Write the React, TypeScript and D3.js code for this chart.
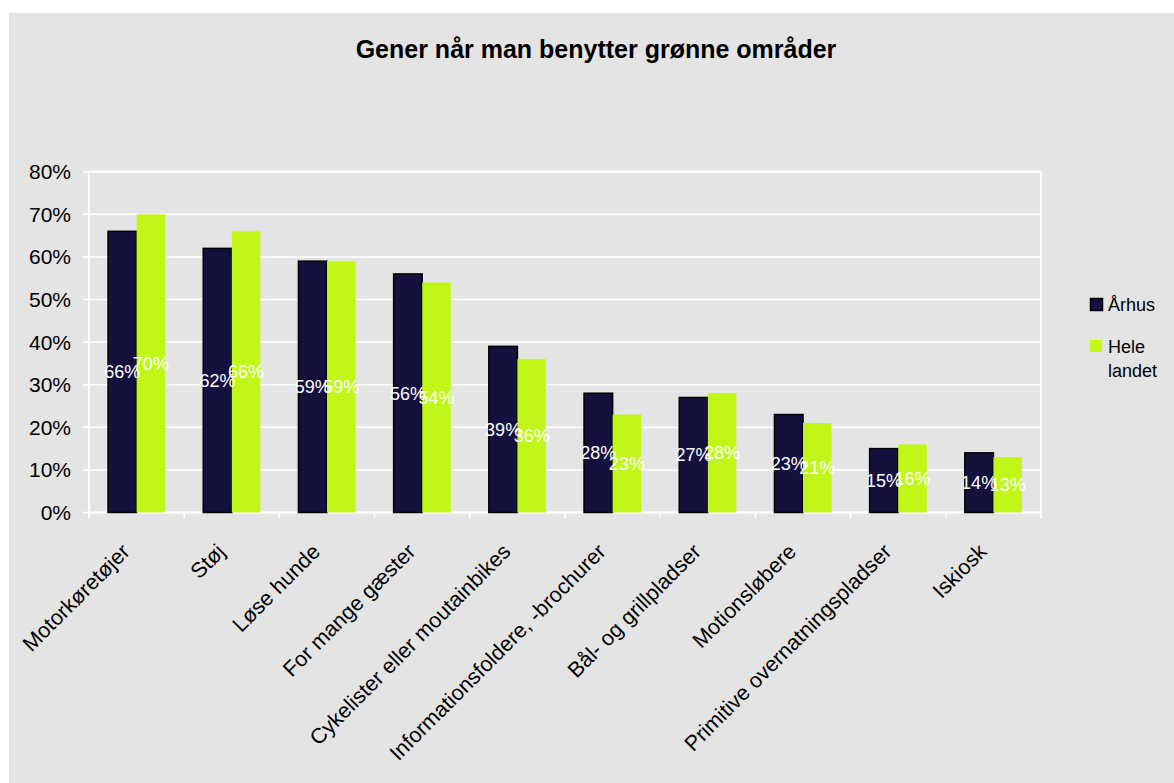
import React from "react";
import * as d3 from "d3";

const categories = [
  "Motorkøretøjer",
  "Støj",
  "Løse hunde",
  "For mange gæster",
  "Cykelister eller moutainbikes",
  "Informationsfoldere, -brochurer",
  "Bål- og grillpladser",
  "Motionsløbere",
  "Primitive overnatningspladser",
  "Iskiosk",
];
const seriesNames = ["Århus", "Hele landet"];
const aarhus = [66, 62, 59, 56, 39, 28, 27, 23, 15, 14];
const heleLandet = [70, 66, 59, 54, 36, 23, 28, 21, 16, 13];
const yTicks = [0, 10, 20, 30, 40, 50, 60, 70, 80];
const title = "Gener når man benytter grønne områder";

const colors = ["#14113f", "#c0f719"];
const W = 1174;
const H = 783;
const font = "Arial, 'Liberation Sans', Helvetica, sans-serif";

export default function App() {
  const left = 89;
  const right = 1041;
  const top = 171.7;
  const bottom = 512.5;

  const x = d3.scaleBand<string>().domain(categories).range([left, right]).paddingInner(0).paddingOuter(0);
  const bw = x.bandwidth();
  const xs = d3.scaleBand<string>().domain(seriesNames).range([bw * 0.2, bw * 0.8]).padding(0);
  const y = d3.scaleLinear().domain([0, 80]).range([bottom, top]);
  const series = [aarhus, heleLandet];

  return (
    <svg width={W} height={H} style={{ position: "absolute", left: 0, top: 0, fontFamily: font }}>
      <rect x={0} y={0} width={W} height={H} fill="#ffffff" />
      <rect x={9} y={13} width={W - 9} height={H - 13} fill="#e4e4e4" />
      <text x={596} y={58} textAnchor="middle" fontSize={25} fontWeight="bold" fill="#000">
        {title}
      </text>

      {/* gridlines */}
      {yTicks.map((t) => (
        <line key={"g" + t} x1={left - 6} x2={right} y1={y(t)} y2={y(t)} stroke="#ffffff" strokeWidth={1.5} />
      ))}
      {/* plot border top/right */}
      <line x1={left} x2={right} y1={top} y2={top} stroke="#fff" strokeWidth={2} />
      <line x1={right} x2={right} y1={top} y2={bottom + 6} stroke="#fff" strokeWidth={2} />
      {/* axes */}
      <line x1={left} x2={left} y1={top} y2={bottom + 6} stroke="#fff" strokeWidth={2} />
      <line x1={left} x2={right} y1={bottom} y2={bottom} stroke="#fff" strokeWidth={2} />
      {categories.map((c, i) => (
        <line key={"t" + i} x1={(x(c) as number)} x2={(x(c) as number)} y1={bottom} y2={bottom + 6} stroke="#fff" strokeWidth={1.5} />
      ))}

      {yTicks.map((t) => (
        <text key={"yl" + t} x={71} y={y(t)} dy="0.36em" textAnchor="end" fontSize={21} fill="#000">
          {t}%
        </text>
      ))}

      {/* bars */}
      {categories.map((c, i) =>
        series.map((s, si) => {
          const bx = (x(c) as number) + (xs(seriesNames[si]) as number);
          const w = xs.bandwidth();
          const yt = y(s[i]);
          return (
            <rect
              key={c + si}
              x={bx}
              y={yt}
              width={w}
              height={bottom - yt}
              fill={colors[si]}
              stroke={si === 0 ? "#000" : "none"}
              strokeWidth={si === 0 ? 1.5 : 0}
            />
          );
        })
      )}
      {/* data labels */}
      {categories.map((c, i) =>
        series.map((s, si) => {
          const bx = (x(c) as number) + (xs(seriesNames[si]) as number) + xs.bandwidth() / 2;
          const ym = (y(s[i]) + bottom) / 2;
          return (
            <text key={"l" + c + si} x={bx} y={ym} dy="0.36em" textAnchor="middle" fontSize={18} fill="#ffffff">
              {s[i]}%
            </text>
          );
        })
      )}

      {/* x labels */}
      {categories.map((c) => {
        const cx = (x(c) as number) + bw / 2;
        return (
          <text key={"xl" + c} transform={`translate(${cx - 5.5},${553}) rotate(-45)`} textAnchor="end" fontSize={21.5} fill="#000">
            {c}
          </text>
        );
      })}

      {/* legend */}
      <rect x={1090.5} y={298.5} width={12} height={12} fill={colors[0]} stroke="#000" strokeWidth={1.5} />
      <text x={1108} y={311} fontSize={18} fill="#000">{seriesNames[0]}</text>
      <rect x={1090} y={340} width={12} height={12} fill={colors[1]} />
      <text x={1108} y={353} fontSize={18} fill="#000">Hele</text>
      <text x={1108} y={377} fontSize={18} fill="#000">landet</text>
    </svg>
  );
}
